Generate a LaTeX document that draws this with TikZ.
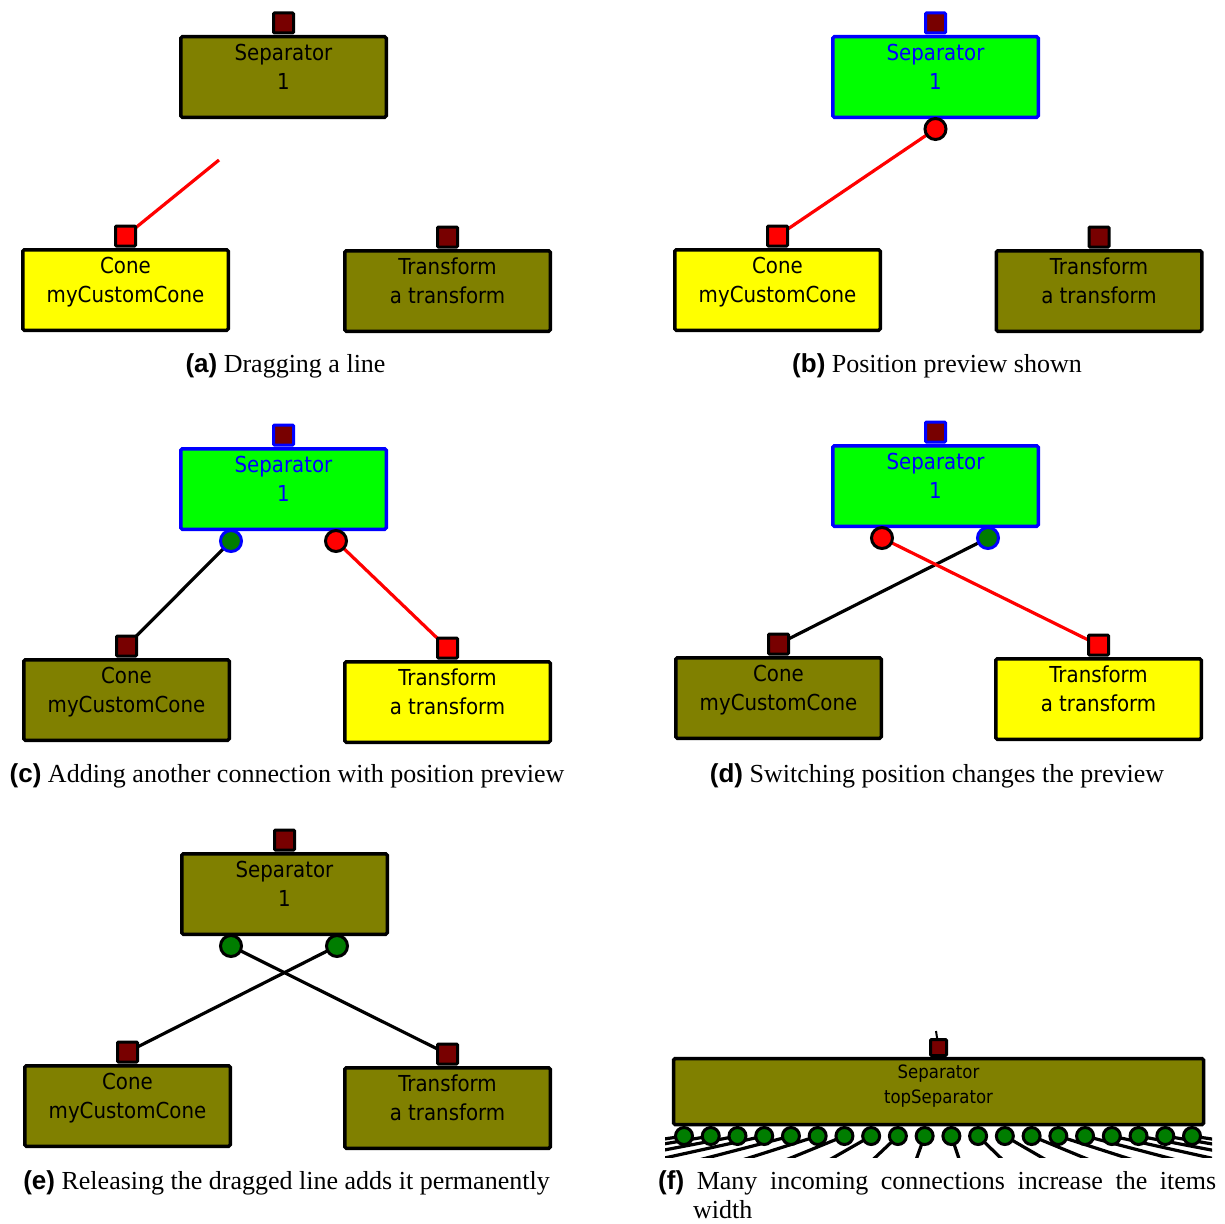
\documentclass[tikz,border=0pt]{standalone}
\usepackage{fontspec}
\setmainfont{Liberation Serif}
\newfontfamily\capsans{Liberation Sans}
\newfontfamily\boxfont[FakeStretch=0.9]{DejaVu Sans}
\definecolor{itemolive}{RGB}{128,128,0}
\definecolor{portred}{RGB}{120,0,0}
\definecolor{selgreen}{RGB}{0,255,0}
\definecolor{selblue}{RGB}{0,0,255}
\definecolor{itemyellow}{RGB}{255,255,0}
\definecolor{hotred}{RGB}{255,0,0}
\definecolor{sockgreen}{RGB}{0,125,0}
\pgfdeclarelayer{paper}
\pgfdeclarelayer{wires}
\pgfsetlayers{paper,wires,main}
\tikzset{
  box/.style={draw=black, line width=3.5pt, rounded corners=1.5pt,
    minimum width=205.5pt, minimum height=80.5pt, inner sep=0pt},
  olivebox/.style={fill=itemolive},
  yelbox/.style={fill=itemyellow},
  selbox/.style={fill=selgreen, draw=selblue},
  port/.style={draw=black, line width=3pt, rounded corners=1pt,
    minimum size=20pt, inner sep=0pt},
  portdark/.style={fill=portred},
  portsel/.style={fill=portred, draw=selblue},
  porthot/.style={fill=hotred},
  txtblack/.style={text=black},
  txtblue/.style={text=selblue},
  boxtext/.style={font=\boxfont\fontsize{22}{26}\selectfont, anchor=base, inner sep=0pt},
  sock/.style={circle, draw=black, line width=3pt, minimum size=21pt, inner sep=0pt},
  sockred/.style={fill=hotred},
  sockgrn/.style={fill=sockgreen},
  sockgrnsel/.style={fill=sockgreen, draw=selblue},
  wire/.style={line width=3.2pt, draw=black},
  hotwire/.style={line width=3.2pt, draw=hotred},
  captext/.style={font=\fontsize{26}{31}\selectfont, inner sep=0pt, anchor=base},
}
% item block: name, centre x, top y, box style, port style, text style, line 1, line 2
\newcommand\itembox[8]{%
  \node[box,#4] (#1) at (#2,#3+42) {};
  \node[port,#5] (#1p) at (#2,#3-12) {};
  \node[boxtext,#6] at (#2,#3+25) {#7};
  \node[boxtext,#6] at (#2,#3+54) {#8};
}
\newcommand\capl[1]{{\capsans\bfseries #1}}
\begin{document}
\begin{tikzpicture}[x=1pt,y=-1pt]
\useasboundingbox (0,0) rectangle (1225,1223);
\begin{pgfonlayer}{paper}
  \fill[white] (0,0) rectangle (1225,1223);
\end{pgfonlayer}

% (a) dragging a line
\itembox{aS}{283.5}{35}{olivebox}{portdark}{txtblack}{Separator}{1}
\itembox{aC}{125.5}{248}{yelbox}{porthot}{txtblack}{Cone}{myCustomCone}
\itembox{aT}{447.5}{249}{olivebox}{portdark}{txtblack}{Transform}{a transform}
\coordinate (aDrag) at (219,160);
\node[captext] at (285.5,372) {\capl{(a)} Dragging a line};

% (b) position preview
\itembox{bS}{935.5}{35}{selbox}{portsel}{txtblue}{Separator}{1}
\itembox{bC}{777.5}{248}{yelbox}{porthot}{txtblack}{Cone}{myCustomCone}
\itembox{bT}{1099}{249}{olivebox}{portdark}{txtblack}{Transform}{a transform}
\node[sock,sockred] (bK) at (935.5,129) {};
\node[captext] at (937,372) {\capl{(b)} Position preview shown};

% (c) second connection
\itembox{cS}{283.5}{447}{selbox}{portsel}{txtblue}{Separator}{1}
\itembox{cC}{126.5}{658}{olivebox}{portdark}{txtblack}{Cone}{myCustomCone}
\itembox{cT}{447.5}{660}{yelbox}{porthot}{txtblack}{Transform}{a transform}
\node[sock,sockgrnsel] (cK1) at (231,541) {};
\node[sock,sockred] (cK2) at (336,541) {};
\node[captext] at (287,782) {\capl{(c)} Adding another connection with position preview};

% (d) switched position
\itembox{dS}{935.5}{444}{selbox}{portsel}{txtblue}{Separator}{1}
\itembox{dC}{778.5}{656}{olivebox}{portdark}{txtblack}{Cone}{myCustomCone}
\itembox{dT}{1098.5}{657}{yelbox}{porthot}{txtblack}{Transform}{a transform}
\node[sock,sockred] (dK1) at (882,538) {};
\node[sock,sockgrnsel] (dK2) at (988,538) {};
\node[captext] at (937,782) {\capl{(d)} Switching position changes the preview};

% (e) released connection
\itembox{eS}{284.5}{852}{olivebox}{portdark}{txtblack}{Separator}{1}
\itembox{eC}{127.5}{1064}{olivebox}{portdark}{txtblack}{Cone}{myCustomCone}
\itembox{eT}{447.5}{1066}{olivebox}{portdark}{txtblack}{Transform}{a transform}
\node[sock,sockgrn] (eK1) at (231,946) {};
\node[sock,sockgrn] (eK2) at (337,946) {};
\node[captext] at (286.5,1189) {\capl{(e)} Releasing the dragged line adds it permanently};

% (f) wide separator with many inputs
\node[box, olivebox, minimum width=530pt, minimum height=66pt] (fS) at (938.5,1091.5) {};
\node[port, portdark, minimum size=16pt] (fSp) at (938.5,1047.5) {};
\node[boxtext, font=\boxfont\fontsize{18.4}{22}\selectfont] at (938.5,1078) {Separator};
\node[boxtext, font=\boxfont\fontsize{18.4}{22}\selectfont] at (938.5,1103) {topSeparator};
\foreach \i in {0,...,19} {
  \pgfmathsetmacro\cx{684+\i*26.737}
  \node[sock, sockgrn, minimum size=17pt] (fK\i) at (\cx,1136) {};
}
\coordinate (fUp) at (936,1031);
\node[captext, anchor=base west] at (658,1189)
  {\makebox[558pt][s]{\capl{(f)} Many incoming connections increase the items}};
\node[captext, anchor=base west] at (693,1218) {width};

% connectors behind the items
\begin{pgfonlayer}{wires}
  \draw[hotwire] (aCp.center) -- (aDrag);
  \draw[hotwire] (bK.center) -- (bCp.center);
  \draw[wire] (cK1.center) -- (cCp.center);
  \draw[hotwire] (cK2.center) -- (cTp.center);
  \draw[wire] (dK2.center) -- (dCp.center);
  \draw[hotwire] (dK1.center) -- (dTp.center);
  \draw[wire] (eK1.center) -- (eTp.center);
  \draw[wire] (eK2.center) -- (eCp.center);
  \draw[wire, line width=2pt] (fSp.center) -- (fUp);
  \begin{scope}
    \clip (665,1126) rectangle (1212,1157);
    \foreach \i in {0,...,19} {
      \pgfmathsetmacro\cx{684+\i*26.737}
      \pgfmathsetmacro\tx{\cx+1.3*(\cx-938.5)}
      \coordinate (fE\i) at (\tx,1186);
      \draw[wire] (fK\i.center) -- (fE\i);
    }
  \end{scope}
\end{pgfonlayer}
\end{tikzpicture}
\end{document}
